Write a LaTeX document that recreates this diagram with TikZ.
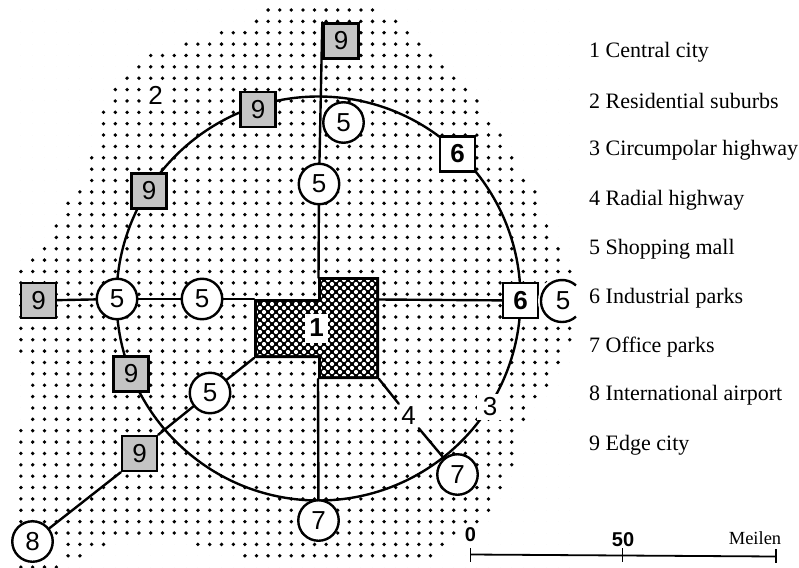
\documentclass[tikz,border=0pt]{standalone}
\usepackage{fontspec}
\setmainfont{Liberation Serif}
\newfontfamily\numfont{Liberation Sans}
\definecolor{edgegray}{HTML}{C4C4C4}
\tikzset{
  mall/.style={circle,draw=black,line width=2.4pt,fill=white,minimum size=40.5pt,inner sep=0pt,font=\numfont\fontsize{26}{26}\selectfont},
  sqbox/.style={rectangle,draw=black,line width=2.4pt,fill=white,minimum size=35pt,inner sep=0pt,font=\numfont\fontsize{26}{26}\selectfont},
  edgecity/.style={sqbox,fill=edgegray},
  roadline/.style={line width=2.4pt,line cap=round},
  maplabel/.style={fill=white,inner sep=0pt,font=\numfont\fontsize{26}{26}\selectfont},
  legend/.style={anchor=west,inner sep=0pt,font=\fontsize{22}{24}\selectfont},
}
\begin{document}
\begin{tikzpicture}[x=1pt,y=-1pt]
\useasboundingbox (0,0) rectangle (799,567);
% suburban dot screen
\fill[black] foreach \j/\l/\r in {0/268/373,1/257/397,2/222/408,3/187/420,4/151/432,5/139/443,6/127/455,7/116/466,8/116/478,9/104/478,10/104/490,11/104/500,12/104/500,13/92/512,14/92/512,15/92/523,16/80/535,17/68/535,18/68/535,19/56/547,20/56/547,21/45/558,22/33/558,23/21/569,24/21/569,25/21/569,26/21/569,27/21/569,28/21/569,29/21/569,30/21/558,31/32/557,32/32/545,33/32/545,34/32/533,35/32/523,36/32/523,37/21/510,38/21/510,39/21/510,40/21/510,41/21/498,42/21/498,43/21/487,44/21/487,45/21/475,46/55/453,47/67/101,47/197/440,48/67/78,48/243/430,49/21/55}{
  foreach \k in {-18,...,29}{
    \pgfextra{
      \pgfmathsetmacro{\dotx}{233.3+\k*(\k<0?11.8:11.6)}
      \pgfmathtruncatemacro{\dotin}{(\dotx>\l-5)&&(\dotx<\r+5)?1:0}
      \pgfmathsetmacro{\doty}{10+11.37*\j}
      \ifnum\dotin=1 \pgfmathsetmacro{\dotr}{1.9}\else\pgfmathsetmacro{\dotr}{0}\fi
    }
    (\dotx,\doty) circle[radius=\dotr]
  }
};
% circumpolar highway
\node[circle,draw=black,line width=2.4pt,minimum size=404pt,inner sep=0pt] (ring) at (318.5,298.5) {};
% central city
\fill[black] (254,299) -- (318,299) -- (318,277) -- (379,277) -- (379,379) -- (318,379) -- (318,358) -- (254,358) -- cycle;
\begin{scope}
\clip (257,302) -- (321,302) -- (321,280) -- (376,280) -- (376,376) -- (321,376) -- (321,355) -- (257,355) -- cycle;
\fill[white] foreach \a in {0,...,16}{ foreach \b in {0,...,14}{
  (252+\a*8,276+\b*8) circle[radius=2.1] (256+\a*8,280+\b*8) circle[radius=2.1] }};
\end{scope}
\coordinate (hubN) at (318.5,278);
\coordinate (hubW) at (254,299);
\coordinate (hubE) at (379,299.5);
\coordinate (hubS) at (318,379);
\coordinate (hubSW) at (254,358);
\coordinate (hubSE) at (379,379);
\node[fill=white,inner sep=0pt,minimum width=23pt,minimum height=29pt,font=\numfont\bfseries\fontsize{26}{26}\selectfont] (central) at (316.5,328) {1};
% nodes
\node[edgecity] (nineTop) at (341,41) {9};
\node[edgecity] (nineA) at (258,109.5) {9};
\node[edgecity] (nineB) at (149,191) {9};
\node[edgecity] (nineC) at (38.5,300.5) {9};
\node[edgecity] (nineD) at (131,374) {9};
\node[edgecity] (nineE) at (139.5,453.5) {9};
\node[mall] (mallTop) at (343.5,122.5) {5};
\node[mall] (mallN) at (319,184) {5};
\node[mall] (mallWa) at (117,299) {5};
\node[mall] (mallWb) at (202,299) {5};
\node[mall] (mallSW) at (210,393) {5};
\node[sqbox,font=\numfont\bfseries\fontsize{26}{26}\selectfont] (sixA) at (457.5,154) {6};
\node[sqbox,font=\numfont\bfseries\fontsize{26}{26}\selectfont] (sixB) at (520.5,300.5) {6};
\node[mall] (airport) at (32.5,541.5) {8};
\node[mall] (sevenS) at (318.5,520.5) {7};
\node[mall] (sevenE) at (457.5,474.5) {7};
\node[circle,fill=white,minimum size=50pt,inner sep=0pt,font=\numfont\fontsize{26}{26}\selectfont] (mallE) at (563,301) {5};
\draw[line width=2.4pt] (576,285.4) arc[start angle=48,end angle=312,radius=21pt];
% labels that break the lines
\node[maplabel,minimum size=24pt] (labSub) at (155.5,95) {2};
\node[maplabel,minimum size=26pt] (labRing) at (490,407) {3};
\node[maplabel,minimum size=24pt] (labRadial) at (408.5,416) {4};
% radial highways
\draw[roadline] (hubN) -- (mallN);
\draw[roadline] (mallN) -- (nineTop.north west);
\draw[roadline] (hubW) -- (mallWb);
\draw[roadline] (mallWb) -- (mallWa);
\draw[roadline] (mallWa) -- (nineC);
\draw[roadline] (hubE) -- (sixB);
\draw[roadline] (hubS) -- (sevenS);
\draw[roadline] (hubSW) -- (mallSW);
\draw[roadline] (mallSW) -- (nineE.north east);
\draw[roadline] (nineE.south west) -- (airport);
\draw[roadline] (hubSE) -- (labRadial);
\draw[roadline] (labRadial) -- (sevenE);
% scale
\coordinate (sc0t) at (470.5,548);
\coordinate (sc0b) at (470.5,562);
\coordinate (sc5t) at (622.5,548);
\coordinate (sc5b) at (622.5,562);
\coordinate (sc9t) at (776,549);
\coordinate (sc9b) at (776,563);
\coordinate (sc0) at (470.5,554.5);
\coordinate (sc5) at (622.5,555.5);
\coordinate (sc9) at (776,556.5);
\draw[line width=1.8pt] (sc0) -- (sc5) -- (sc9);
\draw[line width=1.8pt] (sc0t) -- (sc0b) (sc5t) -- (sc5b) (sc9t) -- (sc9b);
\node[inner sep=0pt,font=\numfont\bfseries\fontsize{20}{20}\selectfont] (scaleZero) at (470.5,535) {0};
\node[inner sep=0pt,font=\numfont\bfseries\fontsize{20}{20}\selectfont] (scaleFifty) at (623,540) {50};
\node[inner sep=0pt,font=\fontsize{18.5}{19}\selectfont] (scaleUnit) at (755,538) {Meilen};
% legend
\node[legend] (leg1) at (589,52) {1 Central city};
\node[legend] (leg2) at (589,101) {2 Residential suburbs};
\node[legend] (leg3) at (589,150) {3 Circumpolar highway};
\node[legend] (leg4) at (589,200) {4 Radial highway};
\node[legend] (leg5) at (589,249) {5 Shopping mall};
\node[legend] (leg6) at (589,298) {6 Industrial parks};
\node[legend] (leg7) at (589,347) {7 Office parks};
\node[legend] (leg8) at (589,395) {8 International airport};
\node[legend] (leg9) at (589,445) {9 Edge city};
\end{tikzpicture}
\end{document}
